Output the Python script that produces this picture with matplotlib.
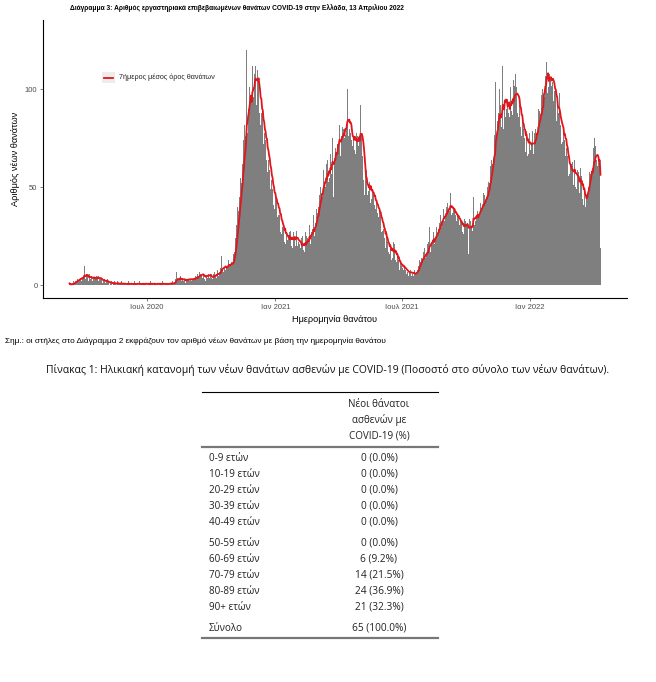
import matplotlib
matplotlib.use('Agg')
import matplotlib.pyplot as plt
from matplotlib.patches import Rectangle
from matplotlib.lines import Line2D
import pandas as pd

W, H = 656, 682

# daily new deaths by date of death, 12 Mar 2020 - 12 Apr 2022
deaths_2020 = [
    1, 0, 1, 0, 1, 1, 2, 1, 3, 2, 2, 3, 4, 2, 3, 5, 4, 2, 6, 3,  # Mar 12-31
    4, 10, 5, 3, 6, 4, 5, 2, 4, 6, 3, 5, 4, 2, 3, 6, 3, 4, 2, 5, 3, 7, 2, 3, 4, 2, 3, 1, 4, 2,  # Apr
    3, 2, 1, 2, 3, 1, 2, 0, 2, 1, 2, 1, 0, 1, 2, 1, 1, 0, 1, 2, 1, 0, 1, 1, 2, 0, 1, 1, 0, 1, 1,  # May
    1, 0, 1, 0, 2, 1, 0, 1, 1, 0, 0, 1, 2, 0, 1, 1, 0, 1, 0, 2, 1, 0, 1, 0, 1, 1, 0, 2, 1, 0,  # Jun
    1, 0, 1, 1, 0, 2, 1, 0, 1, 0, 1, 1, 0, 2, 0, 1, 1, 0, 1, 1, 0, 1, 2, 0, 1, 0, 1, 1, 0, 1, 1,  # Jul
    1, 0, 2, 1, 1, 0, 2, 1, 1, 2, 3, 7, 2, 4, 3, 2, 3, 5, 2, 3, 4, 2, 3, 3, 1, 4, 3, 2, 5, 3, 2,  # Aug
    3, 4, 2, 3, 5, 3, 4, 2, 5, 4, 6, 3, 5, 7, 4, 6, 5, 8, 4, 5, 3, 4, 2, 5, 11, 4, 6, 3, 4, 5,  # Sep
    4, 5, 3, 6, 4, 7, 5, 6, 4, 8, 6, 5, 7, 9, 6, 15, 8, 10, 7, 9, 11, 8, 10, 9, 12, 13, 10, 9, 11, 12, 10,  # Oct
    12, 16, 17, 22, 24, 31, 32, 40, 38, 46, 45, 55, 52, 63, 62, 74, 70, 82, 76, 86,
    120, 78, 88, 90, 101, 93, 108, 97, 112, 96,  # Nov
    96, 108, 118, 112, 92, 110, 96, 104, 88, 98, 82, 88, 76, 90, 72, 78, 72, 74, 64, 74,
    58, 64, 60, 59, 49, 54, 50, 49, 41, 50, 39,  # Dec
]
deaths_2021 = [
    47, 37, 45, 35, 39, 36, 36, 27, 37, 26, 30, 28, 29, 22, 31, 21, 26, 23, 25, 24,
    27, 18, 28, 20, 29, 19, 27, 25, 24, 20, 28,  # Jan
    26, 20, 22, 21, 21, 19, 24, 16, 25, 18, 24, 17, 27, 19, 25, 24, 25, 22, 31, 21,
    30, 27, 29, 26, 36, 25, 34, 32,  # Feb
    39, 37, 42, 40, 46, 44, 50, 47, 56, 45, 59, 50, 61, 50, 62, 52, 64, 53, 66, 55,
    67, 57, 68, 75, 45, 68, 65, 70, 82, 68, 72,  # Mar
    76, 71, 82, 66, 78, 76, 81, 79, 80, 75, 89, 77, 82, 100, 88, 76, 80, 78, 78, 74,
    76, 71, 74, 69, 89, 67, 78, 66, 76, 71,  # Apr
    82, 76, 92, 78, 66, 66, 54, 58, 46, 56, 44, 59, 46, 51, 48, 53, 42, 55, 44, 48,
    43, 46, 41, 44, 39, 42, 37, 40, 35, 38, 33,  # May
    36, 27, 31, 28, 29, 24, 27, 19, 28, 18, 22, 17, 20, 16, 21, 13, 23, 14, 22, 12,
    21, 13, 17, 12, 15, 10, 13, 8, 12, 9,  # Jun
    10, 9, 11, 8, 9, 7, 8, 6, 7, 8, 5, 7, 6, 8, 5, 7, 6, 5, 8, 4,
    6, 7, 9, 8, 10, 11, 13, 12, 14, 15, 13,  # Jul
    17, 12, 19, 14, 20, 15, 21, 16, 22, 30, 17, 24, 21, 23, 22, 27, 21, 29, 24, 30,
    25, 31, 29, 32, 31, 36, 30, 38, 32, 39, 33,  # Aug
    38, 36, 40, 37, 42, 39, 41, 38, 47, 36, 40, 37, 39, 35, 38, 36, 37, 33, 36, 32,
    35, 31, 33, 30, 32, 27, 33, 26, 34, 30,  # Sep
    33, 31, 32, 30, 16, 34, 31, 33, 30, 38, 28, 45, 31, 35, 33, 36, 34, 38, 36, 41,
    37, 42, 38, 43, 40, 47, 39, 46, 43, 48, 45,  # Oct
    50, 49, 53, 52, 61, 59, 64, 62, 73, 65, 77, 69, 104, 75, 84, 82, 88, 100, 78, 92,
    81, 94, 112, 80, 92, 110, 86, 90, 86, 95,  # Nov
    88, 99, 86, 101, 89, 100, 87, 105, 90, 102, 108, 91, 101, 88, 100, 86, 92, 81, 87, 76,
    86, 74, 80, 75, 78, 68, 79, 66, 77, 67, 78,  # Dec
]
deaths_2022 = [
    74, 69, 72, 68, 79, 67, 78, 74, 80, 76, 88, 78, 90, 84, 89, 86, 97, 87, 100, 94,
    129, 96, 107, 102, 114, 98, 112, 101, 108, 106, 105,  # Jan
    102, 104, 112, 94, 99, 88, 100, 84, 94, 82, 88, 98, 76, 82, 72, 83, 73, 79, 74, 78,
    66, 70, 60, 66, 56, 62, 57, 61,  # Feb
    62, 52, 63, 51, 61, 64, 50, 60, 49, 59, 48, 58, 47, 60, 46, 56, 44, 51, 41, 48,
    42, 40, 45, 46, 65, 50, 58, 56, 57, 58, 64,  # Mar
    60, 70, 75, 59, 71, 64, 66, 61, 64, 59, 62, 19,  # Apr 1-12
]

tick_dates = ['2020-07-01', '2021-01-01', '2021-07-01', '2022-01-01']
tick_labels = ['Ιουλ 2020', 'Ιαν 2021', 'Ιουλ 2021', 'Ιαν 2022']
y_ticks = [0, 50, 100]

# table 1
age_groups = ['0-9 ετών', '10-19 ετών', '20-29 ετών', '30-39 ετών', '40-49 ετών',
              '50-59 ετών', '60-69 ετών', '70-79 ετών', '80-89 ετών', '90+ ετών', 'Σύνολο']
new_deaths = [0, 0, 0, 0, 0, 0, 6, 14, 24, 21, 65]
pct = [0.0, 0.0, 0.0, 0.0, 0.0, 0.0, 9.2, 21.5, 36.9, 32.3, 100.0]

deaths = deaths_2020 + deaths_2021 + deaths_2022
dates = pd.date_range('2020-03-12', periods=len(deaths), freq='D')
assert dates[-1] == pd.Timestamp('2022-04-12'), dates[-1]
avg7 = pd.Series(deaths, index=dates).rolling(7, min_periods=1).mean()


def fx(x):
    return x / W


def fy(y):
    return 1 - y / H


fig = plt.figure(figsize=(W / 100, H / 100), dpi=100)
fig.patch.set_facecolor('white')

plt.rcParams['font.family'] = ['Liberation Sans', 'DejaVu Sans']
tfont = ['Open Sans', 'DejaVu Sans']

ax = fig.add_axes([fx(43), fy(298), fx(627) - fx(43), fy(20) - fy(298)])
ax.bar(dates, deaths, width=1.0, color='#7f7f7f', linewidth=0)
ax.plot(dates, avg7.values, color='#e3151a', lw=1.3)

span = (dates[-1] - dates[0]).days
pad = pd.Timedelta(days=0.05 * span)
ax.set_xlim(dates[0] - pad, dates[-1] + pad)
ymax = max(deaths)
ax.set_ylim(-0.05 * ymax, 1.05 * ymax)

ax.set_xticks(pd.to_datetime(tick_dates))
ax.set_xticklabels(tick_labels)
ax.set_yticks(y_ticks)
ax.tick_params(axis='both', labelsize=5.5, colors='#4d4d4d', length=2, width=0.5, pad=2)
for sp in ['top', 'right']:
    ax.spines[sp].set_visible(False)
for sp in ['left', 'bottom']:
    ax.spines[sp].set_linewidth(0.8)
    ax.spines[sp].set_color('black')

fig.text(fx(16), fy(159), 'Αριθμός νέων θανάτων', rotation=90, ha='center', va='center', fontsize=6.6)
fig.text(fx(334), fy(320), 'Ημερομηνία θανάτου', ha='center', va='center', fontsize=6.6)
fig.text(fx(70), fy(8), 'Διάγραμμα 3: Αριθμός εργαστηριακά επιβεβαιωμένων θανάτων COVID-19 στην Ελλάδα, 13 Απριλίου 2022',
         ha='left', va='center', fontsize=4.8, fontweight='bold')

# legend
fig.add_artist(Rectangle((fx(102), fy(83)), fx(13), fy(72) - fy(83), transform=fig.transFigure,
                         facecolor='#ededed', edgecolor='none'))
fig.add_artist(Line2D([fx(103.5), fx(113.5)], [fy(77.5), fy(77.5)], transform=fig.transFigure,
                      color='#e3151a', lw=1.3))
fig.text(fx(119), fy(77.5), '7ήμερος μέσος όρος θανάτων', ha='left', va='center', fontsize=5.2,
         color='#222222')

# note and caption
fig.text(fx(5), fy(341), 'Σημ.: οι στήλες στο Διάγραμμα 2 εκφράζουν τον αριθμό νέων θανάτων με βάση την ημερομηνία θανάτου',
         ha='left', va='center', fontsize=5.95)
fig.text(fx(328), fy(370), 'Πίνακας 1: Ηλικιακή κατανομή των νέων θανάτων ασθενών με COVID-19 (Ποσοστό στο σύνολο των νέων θανάτων).',
         ha='center', va='center', fontsize=7.5, family=tfont, color='#111111')

# table
tl, tr = 202, 438
fig.add_artist(Line2D([fx(tl), fx(tr)], [fy(392.3), fy(392.3)], transform=fig.transFigure, color='black', lw=0.8))
for i, line in enumerate(['Νέοι θάνατοι', 'ασθενών με', 'COVID-19 (%)']):
    fig.text(fx(379), fy(404.3 + 15.7 * i), line, ha='center', va='center', fontsize=7.1, family=tfont,
             color='#222222')
fig.add_artist(Line2D([fx(tl), fx(tr)], [fy(446.7), fy(446.7)], transform=fig.transFigure, color='#777777', lw=1.6))

for i, (g, n, p) in enumerate(zip(age_groups, new_deaths, pct)):
    y = 458.3 + 16 * i + (5 if i >= 5 else 0) + (5 if i >= 10 else 0)
    fig.text(fx(209), fy(y), g, ha='left', va='center', fontsize=7.1, family=tfont, color='#222222')
    fig.text(fx(379), fy(y), f'{n} ({p:.1f}%)', ha='center', va='center', fontsize=7.3, family=tfont,
             color='#222222')
fig.add_artist(Line2D([fx(tl), fx(tr)], [fy(638.3), fy(638.3)], transform=fig.transFigure, color='#777777', lw=1.6))

fig.savefig('out.png', dpi=100, facecolor='white')
